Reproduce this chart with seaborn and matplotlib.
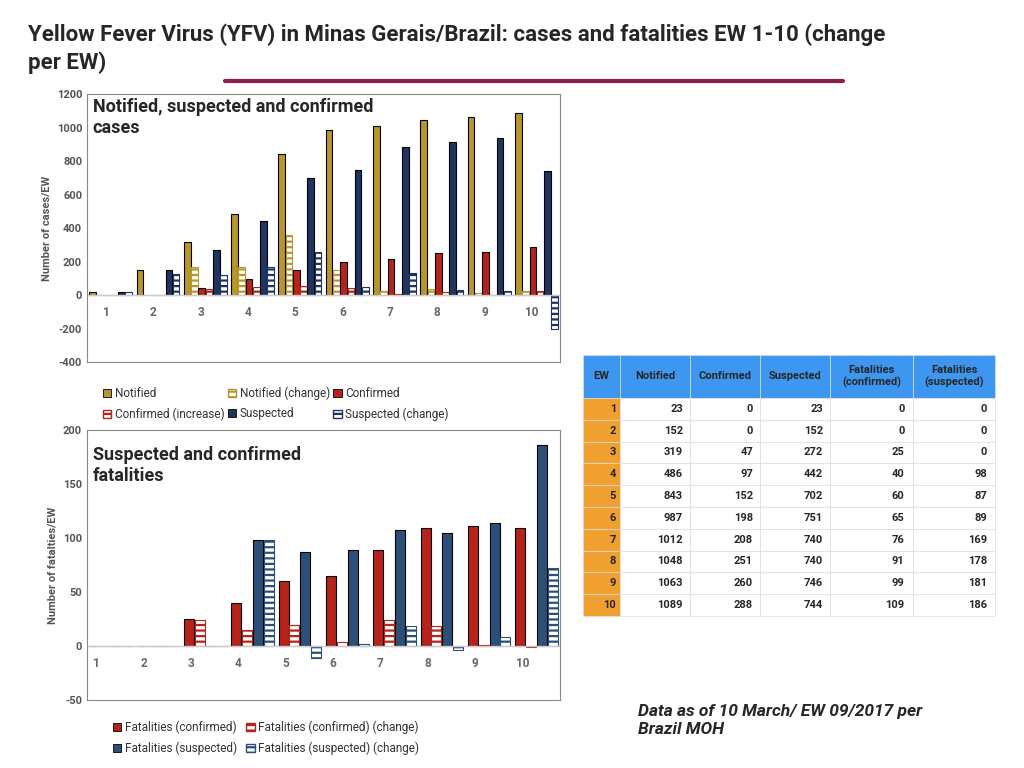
import numpy as np
import pandas as pd
import matplotlib
matplotlib.use("Agg")
import matplotlib.pyplot as plt
import seaborn as sns
sns.set_style("white")
plt.rcParams['font.family'] = ['Roboto', 'DejaVu Sans']
plt.rcParams['hatch.linewidth'] = 1.6
plt.rcParams['axes.unicode_minus'] = False

ew = [1, 2, 3, 4, 5, 6, 7, 8, 9, 10]

# cases chart
notified = [23, 152, 319, 486, 843, 987, 1012, 1048, 1063, 1089]
notified_chg = [0, 0, 170, 170, 360, 150, 25, 36, 15, 26]
confirmed = [0, 0, 47, 97, 152, 198, 220, 251, 260, 288]
confirmed_inc = [0, 0, 40, 50, 55, 46, 10, 20, 5, 28]
suspected = [23, 152, 272, 442, 702, 751, 885, 915, 940, 744]
suspected_chg = [23, 129, 120, 170, 260, 49, 134, 30, 25, -198]

# fatalities chart
fat_conf = [0, 0, 25, 40, 60, 65, 89, 109, 111, 109]
fat_conf_chg = [0, 0, 24, 15, 20, 4, 24, 19, 1, -1]
fat_susp = [0, 0, 0, 98, 87, 89, 108, 105, 114, 186]
fat_susp_chg = [0, 0, 0, 98, -11, 2, 19, -3, 9, 72]

# table
tab_cols = ["EW", "Notified", "Confirmed", "Suspected", "Fatalities\n(confirmed)", "Fatalities\n(suspected)"]
tab_notified = [23, 152, 319, 486, 843, 987, 1012, 1048, 1063, 1089]
tab_confirmed = [0, 0, 47, 97, 152, 198, 208, 251, 260, 288]
tab_suspected = [23, 152, 272, 442, 702, 751, 740, 740, 746, 744]
tab_fat_conf = [0, 0, 25, 40, 60, 65, 76, 91, 99, 109]
tab_fat_susp = [0, 0, 0, 98, 87, 89, 169, 178, 181, 186]

gold, red, navy, steel = "#b8962e", "#b5231b", "#1f3461", "#2c4f78"

fig = plt.figure(figsize=(10.24, 7.68), dpi=100)
fig.text(0.027, 0.97, "Yellow Fever Virus (YFV) in Minas Gerais/Brazil: cases and fatalities EW 1-10 (change\nper EW)",
         fontsize=16, fontweight="bold", va="top", linespacing=1.3)
fig.add_artist(plt.Line2D([0.22, 0.823], [0.895, 0.895], color="#8a1f4d", lw=3))


def grouped(ax, series, names, styles):
    df = pd.DataFrame({"EW": np.tile(ew, len(series)),
                       "value": np.concatenate(series),
                       "series": np.repeat(names, len(ew))})
    sns.barplot(data=df, x="EW", y="value", hue="series", ax=ax, width=0.92,
                gap=0.08, dodge=True, legend=False)
    handles = []
    for cont, (col, hatched), name in zip(ax.containers, styles, names):
        for p in cont:
            if hatched:
                p.set_facecolor("white")
                p.set_edgecolor(col)
                p.set_hatch("---")
            else:
                p.set_facecolor(col)
                p.set_edgecolor("black")
            p.set_linewidth(0.8)
        if hatched:
            handles.append(plt.Rectangle((0, 0), 1, 1, fc="white", ec=col, hatch="---", label=name))
        else:
            handles.append(plt.Rectangle((0, 0), 1, 1, fc=col, ec="black", lw=0.6, label=name))
    ax.axhline(0, color="#cccccc", lw=1)
    ax.set_xticks([])
    ax.set_xlabel("")
    for s in ax.spines.values():
        s.set_color("#888888")
    ax.tick_params(axis="y", labelsize=8, colors="#555555", length=0)
    for t in ax.get_yticklabels():
        t.set_fontweight("bold")
    return handles


# top chart
ax1 = fig.add_axes([0.085, 0.528, 0.462, 0.349])
h1 = grouped(ax1, [notified, notified_chg, confirmed, confirmed_inc, suspected, suspected_chg],
             ["Notified", "Notified (change)", "Confirmed", "Confirmed (increase)", "Suspected", "Suspected (change)"],
             [(gold, False), (gold, True), (red, False), (red, True), (navy, False), (navy, True)])
ax1.set_ylim(-400, 1200)
ax1.set_yticks(range(-400, 1201, 200))
for t in ax1.get_yticklabels():
    t.set_fontweight("bold")
ax1.set_ylabel("Number of cases/EW", fontsize=8, fontweight="bold", color="#555555")
for i, e in enumerate(ew):
    ax1.text(i - 0.1, -60, str(e), ha="center", va="top", fontsize=8.5, color="#666666", fontweight="bold")
ax1.text(0.012, 0.985, "Notified, suspected and confirmed\ncases", transform=ax1.transAxes,
         fontsize=13, fontweight="bold", va="top")
fig.legend(handles=[h1[i] for i in (0, 3, 1, 4, 2, 5)], loc="upper left", bbox_to_anchor=(0.09, 0.51),
           ncol=3, frameon=False, fontsize=8.5, handlelength=0.7, handleheight=0.7,
           columnspacing=0.3, labelspacing=0.6, handletextpad=0.3, labelcolor="#333333")

# bottom chart
ax2 = fig.add_axes([0.085, 0.088, 0.462, 0.352])
h2 = grouped(ax2, [fat_conf, fat_conf_chg, fat_susp, fat_susp_chg],
             ["Fatalities (confirmed)", "Fatalities (confirmed) (change)",
              "Fatalities (suspected)", "Fatalities (suspected) (change)"],
             [(red, False), (red, True), (steel, False), (steel, True)])
ax2.set_ylim(-50, 200)
ax2.set_yticks(range(-50, 201, 50))
for t in ax2.get_yticklabels():
    t.set_fontweight("bold")
ax2.set_ylabel("Number of fatalties/EW", fontsize=8, fontweight="bold", color="#555555")
for i, e in enumerate(ew):
    ax2.text(i - 0.3, -10, str(e), ha="center", va="top", fontsize=8.5, color="#666666", fontweight="bold")
ax2.text(0.012, 0.94, "Suspected and confirmed\nfatalities", transform=ax2.transAxes,
         fontsize=13, fontweight="bold", va="top")
fig.legend(handles=[h2[i] for i in (0, 2, 1, 3)], loc="upper left", bbox_to_anchor=(0.1, 0.075),
           ncol=2, frameon=False, fontsize=8.5, handlelength=0.7, handleheight=0.7,
           columnspacing=0.8, labelspacing=0.6, handletextpad=0.3, labelcolor="#333333")

# table
axt = fig.add_axes([0.569, 0.538, 0.403, 0.34])
axt.axis("off")
rows = [[str(e), str(a), str(b), str(c), str(d), str(f)] for e, a, b, c, d, f in
        zip(ew, tab_notified, tab_confirmed, tab_suspected, tab_fat_conf, tab_fat_susp)]
tbl = axt.table(cellText=rows, colLabels=tab_cols, bbox=[0, 0, 1, 1],
                colWidths=[0.09, 0.17, 0.17, 0.17, 0.2, 0.2])
tbl.auto_set_font_size(False)
tbl.set_fontsize(8)
for (r, c), cell in tbl.get_celld().items():
    cell.set_edgecolor("#dddddd")
    cell.set_linewidth(0.5)
    cell.get_text().set_fontweight("bold")
    if r == 0:
        cell.set_facecolor("#3d97f0")
        cell._loc = "left"
        cell.PAD = 0.05
    else:
        cell._loc = "right"
        if c == 0:
            cell.set_facecolor("#f0a030")
# taller header row
hdr_h = 0.165
body_h = (1 - hdr_h) / len(ew)
for (r, c), cell in tbl.get_celld().items():
    cell.set_height(hdr_h if r == 0 else body_h)
tbl._bbox = None
x = 0
lefts = np.cumsum([0] + [0.09, 0.17, 0.17, 0.17, 0.2, 0.2])
for (r, c), cell in tbl.get_celld().items():
    cell.set_x(lefts[c])
    cell.set_width(lefts[c + 1] - lefts[c])
    cell.set_y(1 - hdr_h if r == 0 else 1 - hdr_h - r * body_h)

fig.text(0.623, 0.062, "Data as of 10 March/ EW 09/2017 per\nBrazil MOH", fontsize=12.5,
         fontweight="bold", fontstyle="italic", va="center", linespacing=1.3)

fig.savefig("out.png", dpi=100)
